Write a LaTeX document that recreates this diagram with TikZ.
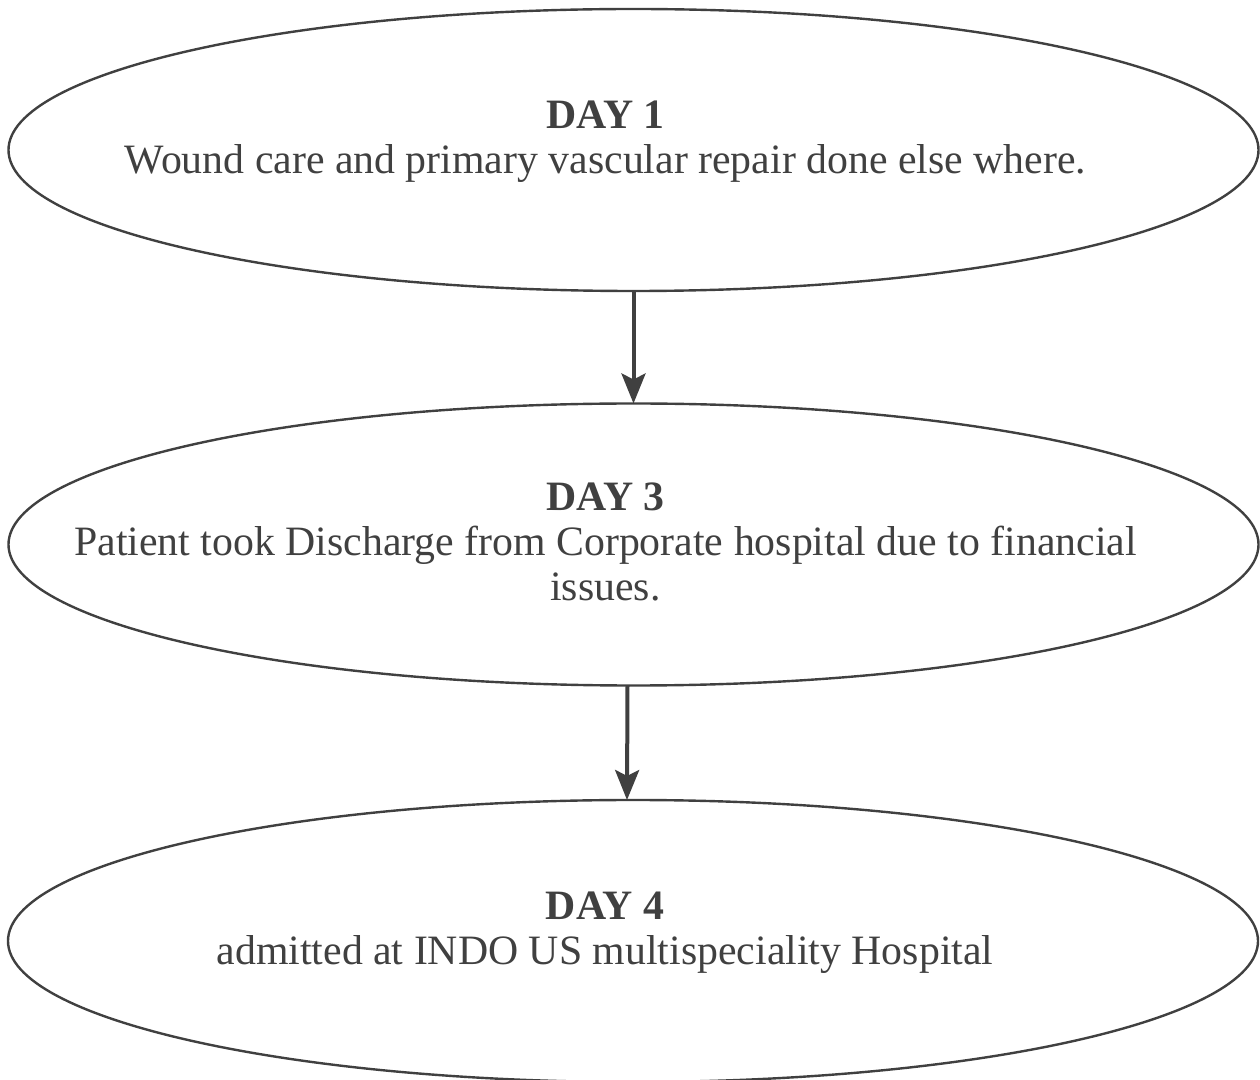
\documentclass[tikz,border=0pt]{standalone}
\usepackage{fontspec}
\setmainfont{Liberation Serif}
\usetikzlibrary{shapes.geometric,arrows.meta}
\colorlet{ink}{black!75}
\tikzset{
  dayblob/.style = {
    ellipse, draw=ink, line width=1.2pt,
    minimum width=625pt, minimum height=141pt,
    inner sep=0pt, outer sep=0pt
  },
  daytext/.style = {
    text=ink, align=center, inner sep=0pt,
    font=\fontsize{20.9}{22.5}\selectfont
  },
  flow/.style = {
    draw=ink, line width=2pt,
    -{Stealth[length=15pt,width=12pt,inset=3pt]}
  }
}

\begin{document}
\begin{tikzpicture}[x=0.5pt,y=-0.5pt]
  \useasboundingbox (0,0) rectangle (1260,1080);
  \node[dayblob] (d1) at (633.5,150) {};
  \node[dayblob] (d3) at (633.5,544.5) {};
  \node[dayblob] (d4) at (633,941) {};

  \node[daytext] (t1) at ([xshift=-14pt,yshift=4pt]d1.center)
    {\textbf{DAY 1}\\Wound care and primary vascular repair done else where.};
  \node[daytext] (t3) at ([xshift=-14pt,yshift=1.5pt]d3.center)
    {\textbf{DAY 3}\\Patient took Discharge from Corporate hospital due to financial\\issues.};
  \node[daytext] (t4) at ([xshift=-14pt,yshift=4pt]d4.center)
    {\textbf{DAY 4}\\admitted at INDO US multispeciality Hospital};

  \draw[flow] (d1.south) -- (d3.north);
  \draw[flow] ([xshift=-3pt]d3.south) -- ([xshift=-3pt]d4.north);
\end{tikzpicture}
\end{document}
